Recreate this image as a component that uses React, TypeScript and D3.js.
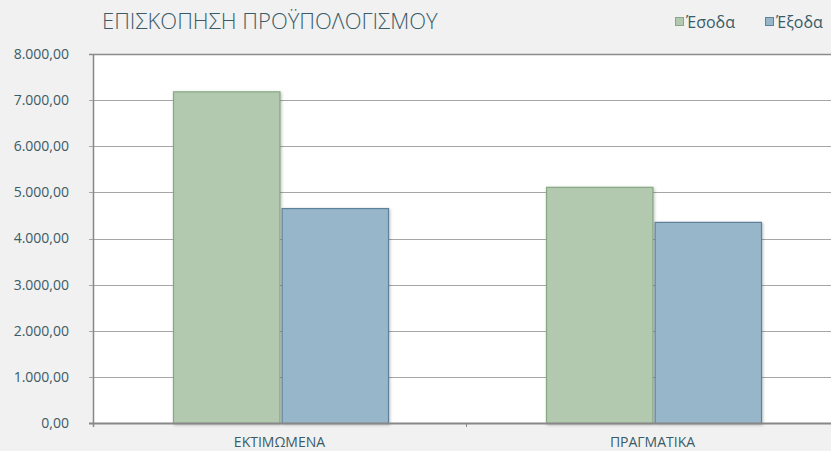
import { useEffect, useRef } from 'react'
import * as d3 from 'd3'

const categories = ['ΕΚΤΙΜΩΜΕΝΑ', 'ΠΡΑΓΜΑΤΙΚΑ']
const seriesNames = ['Έσοδα', 'Έξοδα']
const income = [7190, 5120]
const expenses = [4660, 4360]
const yTicks = [0, 1000, 2000, 3000, 4000, 5000, 6000, 7000, 8000]

const fills = ['#b2c9b0', '#97b6ca']
const strokes = ['#86a983', '#5d8299']
const textColor = '#3a5c68'

const fmt = (v: number) => {
  const [i, d] = v.toFixed(2).split('.')
  return i.replace(/\B(?=(\d{3})+(?!\d))/g, '.') + ',' + d
}

export default function App() {
  const svgRef = useRef<SVGSVGElement>(null)

  useEffect(() => {
    if (!svgRef.current) return
    const svg = d3.select(svgRef.current)
    svg.selectAll('*').remove()

    const width = 831
    const height = 451
    const margin = { top: 54, right: -8, bottom: 28, left: 93 }
    const chartWidth = width - margin.left - margin.right
    const chartHeight = height - margin.top - margin.bottom
    const font = "'Open Sans', 'Noto Sans', sans-serif"

    svg.append('rect').attr('width', width).attr('height', height).attr('fill', '#f1f1f1')

    const g = svg.append('g').attr('transform', `translate(${margin.left},${margin.top})`)

    g.append('rect').attr('width', chartWidth).attr('height', chartHeight).attr('fill', '#ffffff')

    const x = d3.scaleBand().domain(categories).range([0, chartWidth])
    const x1 = d3.scaleBand().domain(seriesNames).range([80, 295]).paddingInner(0.02)
    const y = d3.scaleLinear().domain([0, 8000]).range([chartHeight, 0])

    // gridlines
    g.selectAll('.grid')
      .data(yTicks.slice(1))
      .enter()
      .append('line')
      .attr('x1', -4)
      .attr('x2', chartWidth)
      .attr('y1', d => Math.round(y(d)) + 0.5)
      .attr('y2', d => Math.round(y(d)) + 0.5)
      .attr('stroke', d => (d === 8000 ? '#8c8c8c' : '#a6a6a6'))
      .attr('stroke-width', d => (d === 8000 ? 1.5 : 1))

    g.selectAll('.ylab')
      .data(yTicks)
      .enter()
      .append('text')
      .attr('x', -24)
      .attr('y', d => y(d))
      .attr('dy', '0.35em')
      .attr('text-anchor', 'end')
      .style('font-family', font)
      .style('font-size', '14px')
      .style('fill', textColor)
      .text(d => fmt(d))

    // bars
    const series = [income, expenses]
    categories.forEach((c, ci) => {
      seriesNames.forEach((s, si) => {
        const v = series[si][ci]
        g.append('rect')
          .attr('x', (x(c) || 0) + (x1(s) || 0) + 0.5)
          .attr('y', y(v) + 0.5)
          .attr('width', x1.bandwidth())
          .attr('height', chartHeight - y(v))
          .attr('fill', fills[si])
          .attr('stroke', strokes[si])
          .attr('stroke-width', 1.2)
          .style('filter', 'drop-shadow(1px 1px 1.5px rgba(0,0,0,0.25))')
      })
    })

    // axis lines
    g.append('line')
      .attr('x1', 0.5).attr('x2', 0.5)
      .attr('y1', 0).attr('y2', chartHeight + 4)
      .attr('stroke', '#888').attr('stroke-width', 1.5)
    g.append('line')
      .attr('x1', -4).attr('x2', chartWidth)
      .attr('y1', chartHeight + 0.5).attr('y2', chartHeight + 0.5)
      .attr('stroke', '#888').attr('stroke-width', 2)
    g.append('line')
      .attr('x1', (x(categories[1]) || 0) + 0.5).attr('x2', (x(categories[1]) || 0) + 0.5)
      .attr('y1', chartHeight).attr('y2', chartHeight + 4)
      .attr('stroke', '#888')

    g.selectAll('.xlab')
      .data(categories)
      .enter()
      .append('text')
      .attr('x', d => (x(d) || 0) + x.bandwidth() / 2)
      .attr('y', chartHeight + 24)
      .attr('text-anchor', 'middle')
      .style('font-family', font)
      .style('font-size', '14px')
      .style('fill', textColor)
      .text(d => d)

    // title
    svg.append('text')
      .attr('x', 102)
      .attr('y', 29)
      .style('font-family', font)
      .style('font-size', '22px')
      .style('font-weight', 300)
      .style('fill', textColor)
      .text('ΕΠΙΣΚΟΠΗΣΗ ΠΡΟΫΠΟΛΟΓΙΣΜΟΥ')

    // legend
    const legendX = [675, 765]
    seriesNames.forEach((s, i) => {
      svg.append('rect')
        .attr('x', legendX[i] + 0.5).attr('y', 17.5)
        .attr('width', 8).attr('height', 8)
        .attr('fill', fills[i]).attr('stroke', strokes[i])
      svg.append('text')
        .attr('x', legendX[i] + 11)
        .attr('y', 28)
        .style('font-family', font)
        .style('font-size', '16px')
        .style('fill', textColor)
        .text(s)
    })
  }, [])

  return (
    <div style={{ position: 'absolute', left: 0, top: 0 }}>
      <svg ref={svgRef} width={831} height={451} style={{ display: 'block' }} />
    </div>
  )
}
